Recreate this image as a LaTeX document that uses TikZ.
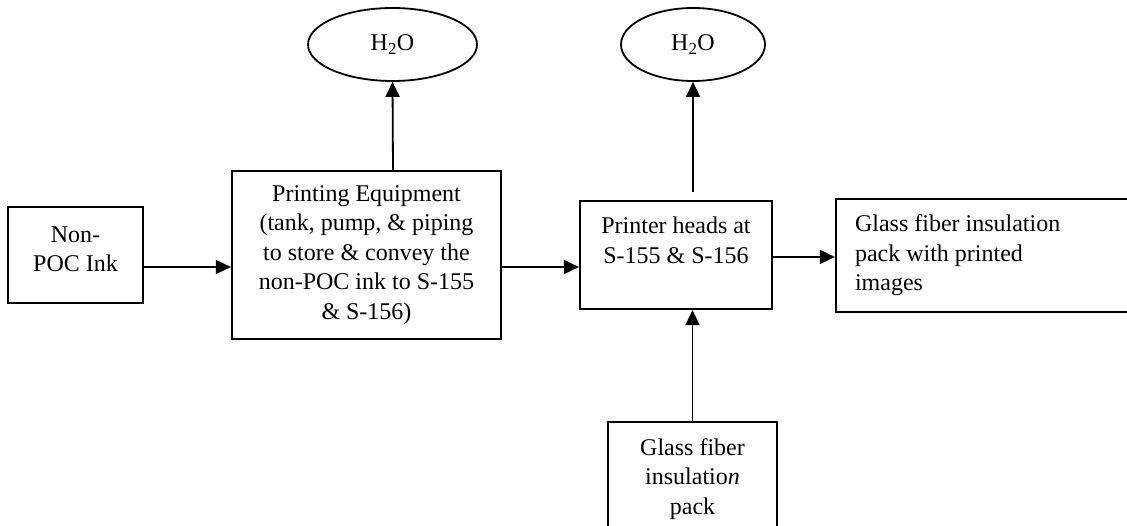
\documentclass[tikz,border=0pt]{standalone}
\usepackage{fontspec}
\setmainfont{Liberation Serif}
\usetikzlibrary{shapes.geometric,arrows.meta}
\begin{document}
\begin{tikzpicture}[x=1pt,y=-1pt,
  every node/.style={font=\fontsize{24}{29.5}\selectfont},
  pbox/.style={draw,line width=2.2pt,rectangle,inner sep=0pt,align=center},
  oval/.style={draw,line width=1.8pt,ellipse,inner sep=0pt,minimum height=73pt},
  flow/.style={line width=1.8pt,-{Triangle[length=15pt,width=14pt]}}]
\clip (0,0) rectangle (1127,526);
\useasboundingbox (0,0) rectangle (1127,526);
\node[pbox,minimum width=135pt,minimum height=96pt] (ink) at (75.5,255) {Non-\\POC Ink\\[-18pt]\mbox{}};
\node[pbox,minimum width=269pt,minimum height=168pt] (equip) at (366.5,255) {Printing Equipment\\(tank, pump, \& piping\\to store \& convey the\\non-POC ink to S-155\\\& S-156)};
\node[pbox,minimum width=192pt,minimum height=108pt] (heads) at (676,255) {Printer heads at\\S-155 \& S-156\\\mbox{}};
\node[pbox,minimum width=300pt,minimum height=113pt,text width=262pt,align=flush left] (out) at (986,255.5) {Glass fiber insulation\\pack with printed\\images};
\node[pbox,minimum width=169pt,minimum height=138pt] (pack) at (692.5,491) {Glass fiber\\insulatio\textit{n}\\pack\\\mbox{}};
\node[oval,minimum width=169pt] (w1) at (392.5,44.5) {H\textsubscript{2}O};
\node[oval,minimum width=144pt] (w2) at (693,44.5) {H\textsubscript{2}O};
\draw[flow] ([yshift=-12pt]ink.east) -- ([yshift=-12pt]equip.west);
\draw[flow] ([yshift=-12pt]equip.east) -- ([yshift=-12pt]heads.west);
\draw[flow] ([xshift=26.5pt]equip.north) -- (w1.south);
\draw[flow] ([xshift=17pt,yshift=8pt]heads.north) -- (w2.south);
\draw[flow] ([yshift=-2pt]heads.east) -- ([yshift=-2pt]heads.east -| out.west);
\draw[flow] (pack.north) -- (heads.south -| pack.north);
\end{tikzpicture}
\end{document}
